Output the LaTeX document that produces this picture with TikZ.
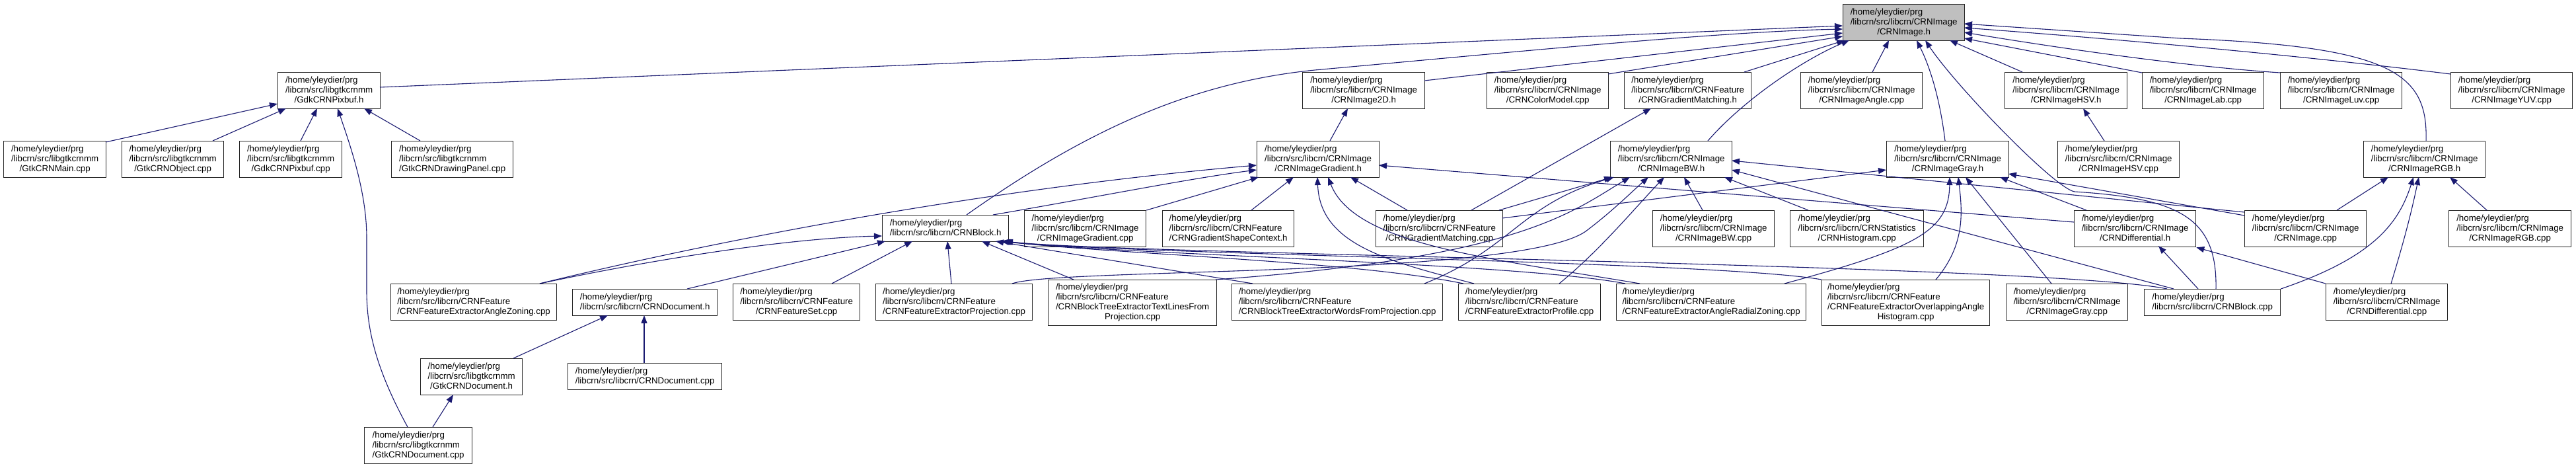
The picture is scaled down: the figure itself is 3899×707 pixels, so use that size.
\documentclass[tikz,border=0pt]{standalone}
\usepackage{fontspec}
\setmainfont{Liberation Sans}
\usetikzlibrary{arrows.meta}
\definecolor{edgeblue}{RGB}{25,25,112}
\definecolor{hdrgray}{RGB}{191,191,191}
\newcommand\lblthree[3]{\begin{tabular}{@{}l@{}}#1\\#2\\\multicolumn{1}{@{}c@{}}{#3}\end{tabular}}
\newcommand\lbltwo[2]{\begin{tabular}{@{}l@{}}#1\\#2\end{tabular}}
\newcommand\lblfour[4]{\begin{tabular}{@{}l@{}}#1\\#2\\#3\\\multicolumn{1}{@{}c@{}}{#4}\end{tabular}}
\newcommand\hp{/home/yleydier/prg}
\newcommand\pimg{/libcrn/src/libcrn/CRNImage}
\newcommand\pfeat{/libcrn/src/libcrn/CRNFeature}
\newcommand\pgtk{/libcrn/src/libgtkcrnmm}
\begin{document}
\begin{tikzpicture}[x=1pt,y=-1pt,
  box/.style={draw=black!85, line width=1.3pt, inner sep=0pt, anchor=north west,
    font=\fontsize{13.3}{15}\selectfont, minimum height=55},
  edge/.style={draw=edgeblue, line width=1.1pt, -{Triangle[length=12pt,width=9pt]}}]
\useasboundingbox (0,0) rectangle (3899,707);
% row 0
\node[box, fill=hdrgray, minimum width=184] (img) at (2789,6) {\lblthree{\hp}{\pimg}{/CRNImage.h}};
% row 1
\node[box, minimum width=155] (gdkh) at (420,109) {\lblthree{\hp}{\pgtk}{/GdkCRNPixbuf.h}};
\node[box, minimum width=185] (img2d) at (1971,109) {\lblthree{\hp}{\pimg}{/CRNImage2D.h}};
\node[box, minimum width=184] (colm) at (2250,109) {\lblthree{\hp}{\pimg}{/CRNColorModel.cpp}};
\node[box, minimum width=192] (gmh) at (2458,109) {\lblthree{\hp}{\pfeat}{/CRNGradientMatching.h}};
\node[box, minimum width=184] (angle) at (2725,109) {\lblthree{\hp}{\pimg}{/CRNImageAngle.cpp}};
\node[box, minimum width=185] (hsvh) at (3034,109) {\lblthree{\hp}{\pimg}{/CRNImageHSV.h}};
\node[box, minimum width=184] (lab) at (3242,109) {\lblthree{\hp}{\pimg}{/CRNImageLab.cpp}};
\node[box, minimum width=184] (luv) at (3451,109) {\lblthree{\hp}{\pimg}{/CRNImageLuv.cpp}};
\node[box, minimum width=184] (yuv) at (3709,109) {\lblthree{\hp}{\pimg}{/CRNImageYUV.cpp}};
% row 2
\node[box, minimum width=155] (gtkmain) at (5,213) {\lblthree{\hp}{\pgtk}{/GtkCRNMain.cpp}};
\node[box, minimum width=154] (gtkobj) at (184,213) {\lblthree{\hp}{\pgtk}{/GtkCRNObject.cpp}};
\node[box, minimum width=155] (gdkcpp) at (362,213) {\lblthree{\hp}{\pgtk}{/GdkCRNPixbuf.cpp}};
\node[box, minimum width=184] (drawp) at (592,213) {\lblthree{\hp}{\pgtk}{/GtkCRNDrawingPanel.cpp}};
\node[box, minimum width=185] (gradh) at (1902,213) {\lblthree{\hp}{\pimg}{/CRNImageGradient.h}};
\node[box, minimum width=184] (bwh) at (2437,213) {\lblthree{\hp}{\pimg}{/CRNImageBW.h}};
\node[box, minimum width=185] (grayh) at (2855,213) {\lblthree{\hp}{\pimg}{/CRNImageGray.h}};
\node[box, minimum width=184] (hsvcpp) at (3114,213) {\lblthree{\hp}{\pimg}{/CRNImageHSV.cpp}};
\node[box, minimum width=184] (rgbh) at (3577,213) {\lblthree{\hp}{\pimg}{/CRNImageRGB.h}};
% row 3
\node[box, minimum width=191, minimum height=40] (blockh) at (1335,325) {\lbltwo{\hp}{/libcrn/src/libcrn/CRNBlock.h}};
\node[box, minimum width=184] (gradcpp) at (1550,318) {\lblthree{\hp}{\pimg}{/CRNImageGradient.cpp}};
\node[box, minimum width=199] (shapeh) at (1759,318) {\lblthree{\hp}{\pfeat}{/CRNGradientShapeContext.h}};
\node[box, minimum width=192] (gmcpp) at (2082,318) {\lblthree{\hp}{\pfeat}{/CRNGradientMatching.cpp}};
\node[box, minimum width=184] (bwcpp) at (2501,318) {\lblthree{\hp}{\pimg}{/CRNImageBW.cpp}};
\node[box, minimum width=202] (hist) at (2709,318) {\lblthree{\hp}{/libcrn/src/libcrn/CRNStatistics}{/CRNHistogram.cpp}};
\node[box, minimum width=184] (diffh) at (3139,318) {\lblthree{\hp}{\pimg}{/CRNDifferential.h}};
\node[box, minimum width=184] (imgcpp) at (3397,318) {\lblthree{\hp}{\pimg}{/CRNImage.cpp}};
\node[box, minimum width=185] (rgbcpp) at (3706,318) {\lblthree{\hp}{\pimg}{/CRNImageRGB.cpp}};
% row 4
\node[box, minimum width=251] (az) at (591,429) {\lblthree{\hp}{\pfeat}{/CRNFeatureExtractorAngleZoning.cpp}};
\node[box, minimum width=219, minimum height=40] (doch) at (866,437) {\lbltwo{\hp}{/libcrn/src/libcrn/CRNDocument.h}};
\node[box, minimum width=192] (featset) at (1109,429) {\lblthree{\hp}{\pfeat}{/CRNFeatureSet.cpp}};
\node[box, minimum width=237] (proj) at (1325,429) {\lblthree{\hp}{\pfeat}{/CRNFeatureExtractorProjection.cpp}};
\node[box, minimum width=255, minimum height=69] (textl) at (1586,423) {\lblfour{\hp}{\pfeat}{/CRNBlockTreeExtractorTextLinesFrom}{Projection.cpp}};
\node[box, minimum width=319] (words) at (1864,429) {\lblthree{\hp}{\pfeat}{/CRNBlockTreeExtractorWordsFromProjection.cpp}};
\node[box, minimum width=215] (profile) at (2207,429) {\lblthree{\hp}{\pfeat}{/CRNFeatureExtractorProfile.cpp}};
\node[box, minimum width=287] (radial) at (2446,429) {\lblthree{\hp}{\pfeat}{/CRNFeatureExtractorAngleRadialZoning.cpp}};
\node[box, minimum width=254, minimum height=69] (overlap) at (2757,423) {\lblfour{\hp}{\pfeat}{/CRNFeatureExtractorOverlappingAngle}{Histogram.cpp}};
\node[box, minimum width=184] (graycpp) at (3036,429) {\lblthree{\hp}{\pimg}{/CRNImageGray.cpp}};
\node[box, minimum width=206, minimum height=40] (blockcpp) at (3245,437) {\lbltwo{\hp}{/libcrn/src/libcrn/CRNBlock.cpp}};
\node[box, minimum width=184] (diffcpp) at (3520,429) {\lblthree{\hp}{\pimg}{/CRNDifferential.cpp}};
% row 5, 6
\node[box, minimum width=154] (gtkdoch) at (636,542) {\lblthree{\hp}{\pgtk}{/GtkCRNDocument.h}};
\node[box, minimum width=233, minimum height=40] (doccpp) at (859,549) {\lbltwo{\hp}{/libcrn/src/libcrn/CRNDocument.cpp}};
\node[box, minimum width=163] (gtkdoccpp) at (551,646) {\lblthree{\hp}{\pgtk}{/GtkCRNDocument.cpp}};

% ---- edges to GdkCRNPixbuf.h
\draw[edge] ([shift={(155,2)}]gtkmain.north west) -- ([shift={(0,48)}]gdkh.north west);
\draw[edge] ([shift={(138,0)}]gtkobj.north west) -- ([shift={(13,55)}]gdkh.north west);
\draw[edge] ([shift={(93,0)}]gdkcpp.north west) -- ([shift={(60,55)}]gdkh.north west);
\draw[edge] ([shift={(44,0)}]drawp.north west) -- ([shift={(131,55)}]gdkh.north west);
\draw[edge] ([shift={(66,0)}]gtkdoccpp.north west) .. controls (570,560) and (555,500) .. (555,440) -- (555,360) .. controls (555,290) and (530,220) .. ([shift={(91,55)}]gdkh.north west);
% ---- edges to CRNImage.h
\draw[edge] ([shift={(155,23)}]gdkh.north west) -- ([shift={(0,33)}]img.north west);
\draw[edge] ([shift={(128,0)}]blockh.north west) .. controls (1640,200) and (1800,125) .. (1990,106) .. controls (2300,78) and (2600,48) .. ([shift={(0,38)}]img.north west);
\draw[edge] ([shift={(185,13)}]img2d.north west) -- ([shift={(0,44)}]img.north west);
\draw[edge] ([shift={(184,3)}]colm.north west) -- ([shift={(0,49)}]img.north west);
\draw[edge] ([shift={(182,0)}]gmh.north west) -- ([shift={(3,55)}]img.north west);
\draw[edge] ([shift={(148,0)}]bwh.north west) .. controls (2640,150) and (2730,90) .. ([shift={(10,55)}]img.north west);
\draw[edge] ([shift={(109,0)}]angle.north west) -- ([shift={(70,55)}]img.north west);
\draw[edge] ([shift={(89,0)}]grayh.north west) .. controls (2935,140) and (2918,95) .. ([shift={(112,55)}]img.north west);
\draw[edge] ([shift={(109,0)}]blockcpp.north west) .. controls (3356,330) and (3300,300) .. (3140,290) .. controls (3110,285) and (2960,130) .. ([shift={(125,55)}]img.north west);
\draw[edge] ([shift={(27,0)}]hsvh.north west) -- ([shift={(162,55)}]img.north west);
\draw[edge] ([shift={(0,1)}]lab.north west) -- ([shift={(184,52)}]img.north west);
\draw[edge] ([shift={(0,1)}]luv.north west) .. controls (3300,100) and (3100,70) .. ([shift={(184,43)}]img.north west);
\draw[edge] ([shift={(0,3)}]yuv.north west) .. controls (3450,80) and (3150,55) .. ([shift={(184,36)}]img.north west);
\draw[edge] ([shift={(95,0)}]rgbh.north west) .. controls (3675,110) and (3620,70) .. (3300,58) -- ([shift={(184,30)}]img.north west);
% ---- single targets row 1
\draw[edge] ([shift={(111,0)}]gradh.north west) -- ([shift={(69,55)}]img2d.north west);
\draw[edge] ([shift={(145,0)}]gmcpp.north west) -- ([shift={(41,55)}]gmh.north west);
\draw[edge] ([shift={(71,0)}]hsvcpp.north west) -- ([shift={(119,55)}]hsvh.north west);
% ---- edges to CRNImageGradient.h
\draw[edge] ([shift={(226,0)}]az.north west) .. controls (1100,360) and (1500,285) .. ([shift={(0,37)}]gradh.north west);
\draw[edge] ([shift={(168,0)}]blockh.north west) .. controls (1650,300) and (1800,270) .. ([shift={(0,44)}]gradh.north west);
\draw[edge] (gradcpp.north east) -- ([shift={(3,55)}]gradh.north west);
\draw[edge] ([shift={(135,0)}]shapeh.north west) -- ([shift={(56,55)}]gradh.north west);
\draw[edge] ([shift={(48,0)}]gmcpp.north west) -- ([shift={(142,55)}]gradh.north west);
\draw[edge] ([shift={(24,0)}]profile.north west) .. controls (2100,395) and (1998,370) .. ([shift={(92,55)}]gradh.north west);
\draw[edge] ([shift={(36,0)}]radial.north west) .. controls (2250,390) and (2050,370) .. ([shift={(108,55)}]gradh.north west);
\draw[edge] ([shift={(0,18)}]diffh.north west) -- ([shift={(185,37)}]gradh.north west);
% ---- edges to CRNBlock.h
\draw[edge] ([shift={(226,0)}]az.north west) .. controls (1000,390) and (1200,360) .. ([shift={(0,32)}]blockh.north west);
\draw[edge] ([shift={(174,0)}]doch.north west) -- ([shift={(5,40)}]blockh.north west);
\draw[edge] ([shift={(150,0)}]featset.north west) -- ([shift={(46,40)}]blockh.north west);
\draw[edge] ([shift={(115,0)}]proj.north west) -- ([shift={(99,40)}]blockh.north west);
\draw[edge] ([shift={(39,0)}]textl.north west) -- ([shift={(151,40)}]blockh.north west);
\draw[edge] ([shift={(32,0)}]words.north west) -- ([shift={(172,40)}]blockh.north west);
\draw[edge] ([shift={(8,0)}]profile.north west) .. controls (2050,395) and (1700,385) .. ([shift={(180,40)}]blockh.north west);
\draw[edge] ([shift={(14,0)}]radial.north west) .. controls (2300,398) and (1700,385) .. ([shift={(182,40)}]blockh.north west);
\draw[edge] ([shift={(0,0)}]overlap.north west) .. controls (2600,395) and (1700,385) .. ([shift={(184,40)}]blockh.north west);
\draw[edge] ([shift={(35,0)}]blockcpp.north west) .. controls (3100,400) and (1700,385) .. ([shift={(186,40)}]blockh.north west);
% ---- edges to CRNImageBW.h
\draw[edge] ([shift={(187,0)}]gmcpp.north west) -- ([shift={(3,55)}]bwh.north west);
\draw[edge] ([shift={(292,0)}]words.north west) .. controls (2290,375) and (2300,310) .. ([shift={(6,55)}]bwh.north west);
\draw[edge] ([shift={(254,0)}]textl.north west) .. controls (2300,390) and (2380,320) .. ([shift={(30,55)}]bwh.north west);
\draw[edge] ([shift={(207,0)}]proj.north west) .. controls (1600,405) and (2300,420) .. (2400,350) .. controls (2440,320) and (2470,290) .. ([shift={(58,55)}]bwh.north west);
\draw[edge] ([shift={(153,0)}]profile.north west) .. controls (2420,380) and (2470,320) .. ([shift={(82,55)}]bwh.north west);
\draw[edge] ([shift={(76,0)}]bwcpp.north west) -- ([shift={(112,55)}]bwh.north west);
\draw[edge] ([shift={(28,0)}]hist.north west) -- ([shift={(173,55)}]bwh.north west);
\draw[edge] ([shift={(0,3)}]imgcpp.north west) -- ([shift={(184,30)}]bwh.north west);
\draw[edge] ([shift={(45,0)}]blockcpp.north west) -- ([shift={(184,44)}]bwh.north west);
% ---- edges to CRNImageGray.h
\draw[edge] ([shift={(192,12)}]gmcpp.north west) -- ([shift={(0,44)}]grayh.north west);
\draw[edge] ([shift={(255,0)}]radial.north west) .. controls (2900,375) and (2950,350) .. ([shift={(96,55)}]grayh.north west);
\draw[edge] ([shift={(173,0)}]overlap.north west) .. controls (2975,370) and (2970,320) .. ([shift={(109,55)}]grayh.north west);
\draw[edge] ([shift={(69,0)}]graycpp.north west) -- ([shift={(120,55)}]grayh.north west);
\draw[edge] ([shift={(19,0)}]diffh.north west) -- ([shift={(172,55)}]grayh.north west);
\draw[edge] ([shift={(0,8)}]imgcpp.north west) -- ([shift={(185,50)}]grayh.north west);
% ---- edges to CRNImageRGB.h
\draw[edge] ([shift={(140,0)}]imgcpp.north west) -- ([shift={(38,55)}]rgbh.north west);
\draw[edge] (blockcpp.north east) .. controls (3590,390) and (3630,340) .. ([shift={(76,55)}]rgbh.north west);
\draw[edge] ([shift={(99,0)}]diffcpp.north west) .. controls (3640,360) and (3650,320) .. ([shift={(84,55)}]rgbh.north west);
\draw[edge] ([shift={(58,0)}]rgbcpp.north west) -- ([shift={(131,55)}]rgbh.north west);
% ---- edges to CRNDifferential.h
\draw[edge] ([shift={(82,0)}]blockcpp.north west) -- ([shift={(128,54)}]diffh.north west);
\draw[edge] (diffcpp.north west) -- (diffh.south east);
% ---- document
\draw[edge] ([shift={(141,0)}]gtkdoch.north west) -- ([shift={(54,40)}]doch.north west);
\draw[edge] ([shift={(116,0)}]doccpp.north west) -- ([shift={(109,40)}]doch.north west);
\draw[edge] ([shift={(104,0)}]gtkdoccpp.north west) -- ([shift={(50,55)}]gtkdoch.north west);
\end{tikzpicture}
\end{document}
